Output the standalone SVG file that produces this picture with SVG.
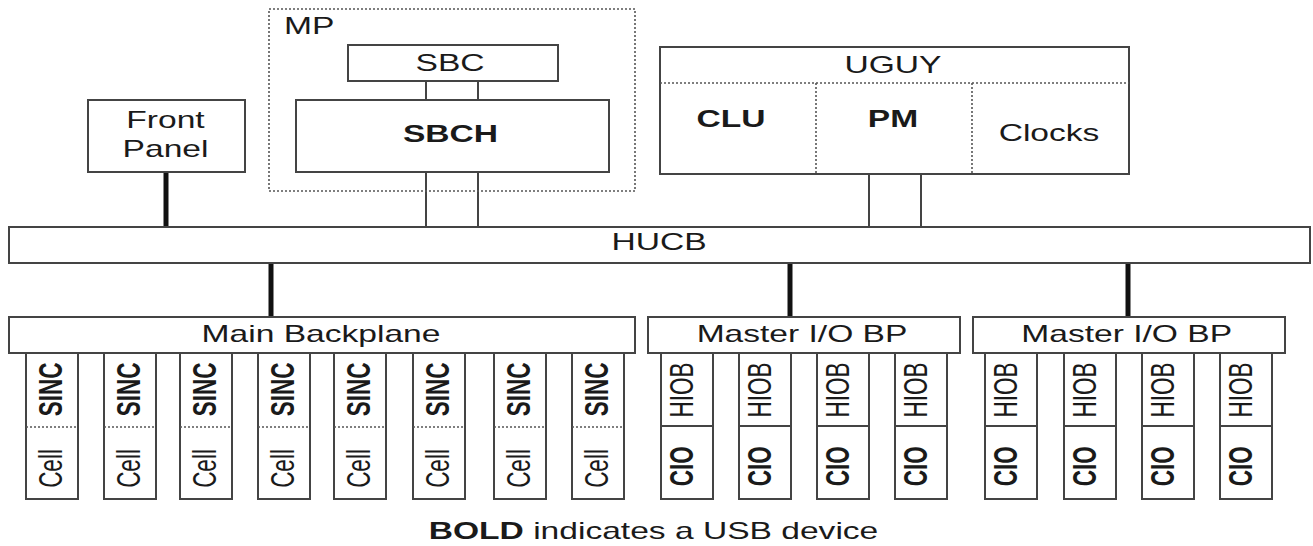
<svg xmlns="http://www.w3.org/2000/svg" width="1313" height="546" viewBox="0 0 1313 546">
<style>
.box{fill:#fff;stroke:#444;stroke-width:2}
.dot{fill:none;stroke:#555;stroke-width:1.6;stroke-dasharray:2 2}
.ln{stroke:#444;stroke-width:2;fill:none}
.thick{stroke:#111;stroke-width:5;fill:none}
text{font-family:"Liberation Sans",Arial,sans-serif;font-size:23px;fill:#1a1a1a;text-anchor:middle}
.b{font-weight:bold}
.v{font-size:22.5px}
.l{text-anchor:start}
</style>
<rect width="1313" height="546" fill="#fff"/>
<g id="connectors">
<line class="ln" x1="426" y1="81" x2="426" y2="100"/>
<line class="ln" x1="478" y1="81" x2="478" y2="100"/>
<line class="ln" x1="426" y1="172" x2="426" y2="227"/>
<line class="ln" x1="478" y1="172" x2="478" y2="227"/>
<line class="ln" x1="869" y1="174" x2="869" y2="227"/>
<line class="ln" x1="921" y1="174" x2="921" y2="227"/>
<line class="thick" x1="166" y1="172" x2="166" y2="227"/>
<line class="thick" x1="271" y1="263" x2="271" y2="317"/>
<line class="thick" x1="790" y1="263" x2="790" y2="317"/>
<line class="thick" x1="1128" y1="263" x2="1128" y2="317"/>
</g>
<g id="mp">
<rect class="dot" x="269" y="9" width="366" height="182"/>
<text class="l" transform="translate(284,34) scale(1.46,1)">MP</text>
</g>
<g id="sbc">
<rect class="box" x="348" y="45" width="210" height="36"/>
<text transform="translate(450,70.5) scale(1.46,1)">SBC</text>
</g>
<g id="sbch">
<rect class="box" x="296" y="100" width="313" height="72"/>
<text class="b" transform="translate(450.5,142.3) scale(1.46,1)">SBCH</text>
</g>
<g id="front-panel">
<rect class="box" x="88" y="100" width="157" height="72"/>
<text transform="translate(165.5,128.3) scale(1.46,1)">Front</text>
<text transform="translate(165.5,157) scale(1.46,1)">Panel</text>
</g>
<g id="uguy">
<rect class="box" x="660" y="47" width="469" height="127"/>
<line class="dot" x1="660" y1="83" x2="1129" y2="83"/>
<line class="dot" x1="816" y1="83" x2="816" y2="174"/>
<line class="dot" x1="972" y1="83" x2="972" y2="174"/>
<text transform="translate(893,72.7) scale(1.46,1)">UGUY</text>
<text class="b" transform="translate(731,126.7) scale(1.46,1)">CLU</text>
<text class="b" transform="translate(893,126.7) scale(1.46,1)">PM</text>
<text transform="translate(1049,140.5) scale(1.46,1)">Clocks</text>
</g>
<g id="hucb">
<rect class="box" x="9" y="227" width="1301" height="36"/>
<text transform="translate(659,249.5) scale(1.46,1)">HUCB</text>
</g>
<g id="main-backplane">
<rect class="box" x="9" y="317" width="626" height="36"/>
<text transform="translate(321,341.7) scale(1.46,1)">Main Backplane</text>
</g>
<g id="master-io-bp-1">
<rect class="box" x="648" y="317" width="312" height="36"/>
<text transform="translate(802,341.7) scale(1.46,1)">Master I/O BP</text>
</g>
<g id="master-io-bp-2">
<rect class="box" x="973" y="317" width="312" height="36"/>
<text transform="translate(1126.7,341.7) scale(1.46,1)">Master I/O BP</text>
</g>
<g id="sinc-cell-1">
<rect class="box" x="26" y="353" width="52" height="146"/>
<line class="dot" x1="26" y1="427" x2="78" y2="427"/>
<text class="b v" transform="translate(61.7,389.3) scale(1.46,1) rotate(-90)">SINC</text>
<text class="v" transform="translate(61.7,468.5) scale(1.46,1) rotate(-90)">Cell</text>
</g>
<g id="sinc-cell-2">
<rect class="box" x="104" y="353" width="52" height="146"/>
<line class="dot" x1="104" y1="427" x2="156" y2="427"/>
<text class="b v" transform="translate(139.7,389.3) scale(1.46,1) rotate(-90)">SINC</text>
<text class="v" transform="translate(139.7,468.5) scale(1.46,1) rotate(-90)">Cell</text>
</g>
<g id="sinc-cell-3">
<rect class="box" x="180" y="353" width="52" height="146"/>
<line class="dot" x1="180" y1="427" x2="232" y2="427"/>
<text class="b v" transform="translate(215.7,389.3) scale(1.46,1) rotate(-90)">SINC</text>
<text class="v" transform="translate(215.7,468.5) scale(1.46,1) rotate(-90)">Cell</text>
</g>
<g id="sinc-cell-4">
<rect class="box" x="258" y="353" width="52" height="146"/>
<line class="dot" x1="258" y1="427" x2="310" y2="427"/>
<text class="b v" transform="translate(293.7,389.3) scale(1.46,1) rotate(-90)">SINC</text>
<text class="v" transform="translate(293.7,468.5) scale(1.46,1) rotate(-90)">Cell</text>
</g>
<g id="sinc-cell-5">
<rect class="box" x="334" y="353" width="52" height="146"/>
<line class="dot" x1="334" y1="427" x2="386" y2="427"/>
<text class="b v" transform="translate(369.7,389.3) scale(1.46,1) rotate(-90)">SINC</text>
<text class="v" transform="translate(369.7,468.5) scale(1.46,1) rotate(-90)">Cell</text>
</g>
<g id="sinc-cell-6">
<rect class="box" x="413" y="353" width="52" height="146"/>
<line class="dot" x1="413" y1="427" x2="465" y2="427"/>
<text class="b v" transform="translate(448.7,389.3) scale(1.46,1) rotate(-90)">SINC</text>
<text class="v" transform="translate(448.7,468.5) scale(1.46,1) rotate(-90)">Cell</text>
</g>
<g id="sinc-cell-7">
<rect class="box" x="494" y="353" width="52" height="146"/>
<line class="dot" x1="494" y1="427" x2="546" y2="427"/>
<text class="b v" transform="translate(529.7,389.3) scale(1.46,1) rotate(-90)">SINC</text>
<text class="v" transform="translate(529.7,468.5) scale(1.46,1) rotate(-90)">Cell</text>
</g>
<g id="sinc-cell-8">
<rect class="box" x="572" y="353" width="52" height="146"/>
<line class="dot" x1="572" y1="427" x2="624" y2="427"/>
<text class="b v" transform="translate(607.7,389.3) scale(1.46,1) rotate(-90)">SINC</text>
<text class="v" transform="translate(607.7,468.5) scale(1.46,1) rotate(-90)">Cell</text>
</g>
<g id="hiob-cio-1">
<rect class="box" x="661" y="353" width="52" height="146"/>
<line class="ln" x1="661" y1="426" x2="713" y2="426"/>
<text class="v" transform="translate(692.6,390) scale(1.46,1) rotate(-90)">HIOB</text>
<text class="b v" transform="translate(692.6,466.3) scale(1.46,1) rotate(-90)">CIO</text>
</g>
<g id="hiob-cio-2">
<rect class="box" x="739" y="353" width="52" height="146"/>
<line class="ln" x1="739" y1="426" x2="791" y2="426"/>
<text class="v" transform="translate(770.6,390) scale(1.46,1) rotate(-90)">HIOB</text>
<text class="b v" transform="translate(770.6,466.3) scale(1.46,1) rotate(-90)">CIO</text>
</g>
<g id="hiob-cio-3">
<rect class="box" x="817" y="353" width="52" height="146"/>
<line class="ln" x1="817" y1="426" x2="869" y2="426"/>
<text class="v" transform="translate(848.6,390) scale(1.46,1) rotate(-90)">HIOB</text>
<text class="b v" transform="translate(848.6,466.3) scale(1.46,1) rotate(-90)">CIO</text>
</g>
<g id="hiob-cio-4">
<rect class="box" x="895" y="353" width="52" height="146"/>
<line class="ln" x1="895" y1="426" x2="947" y2="426"/>
<text class="v" transform="translate(926.6,390) scale(1.46,1) rotate(-90)">HIOB</text>
<text class="b v" transform="translate(926.6,466.3) scale(1.46,1) rotate(-90)">CIO</text>
</g>
<g id="hiob-cio-5">
<rect class="box" x="985" y="353" width="52" height="146"/>
<line class="ln" x1="985" y1="426" x2="1037" y2="426"/>
<text class="v" transform="translate(1016.6,390) scale(1.46,1) rotate(-90)">HIOB</text>
<text class="b v" transform="translate(1016.6,466.3) scale(1.46,1) rotate(-90)">CIO</text>
</g>
<g id="hiob-cio-6">
<rect class="box" x="1064" y="353" width="52" height="146"/>
<line class="ln" x1="1064" y1="426" x2="1116" y2="426"/>
<text class="v" transform="translate(1095.6,390) scale(1.46,1) rotate(-90)">HIOB</text>
<text class="b v" transform="translate(1095.6,466.3) scale(1.46,1) rotate(-90)">CIO</text>
</g>
<g id="hiob-cio-7">
<rect class="box" x="1142" y="353" width="52" height="146"/>
<line class="ln" x1="1142" y1="426" x2="1194" y2="426"/>
<text class="v" transform="translate(1173.6,390) scale(1.46,1) rotate(-90)">HIOB</text>
<text class="b v" transform="translate(1173.6,466.3) scale(1.46,1) rotate(-90)">CIO</text>
</g>
<g id="hiob-cio-8">
<rect class="box" x="1220" y="353" width="52" height="146"/>
<line class="ln" x1="1220" y1="426" x2="1272" y2="426"/>
<text class="v" transform="translate(1251.6,390) scale(1.46,1) rotate(-90)">HIOB</text>
<text class="b v" transform="translate(1251.6,466.3) scale(1.46,1) rotate(-90)">CIO</text>
</g>
<g id="caption">
<text transform="translate(653.5,539) scale(1.46,1)"><tspan class="b">BOLD</tspan> indicates a USB device</text>
</g>
</svg>
